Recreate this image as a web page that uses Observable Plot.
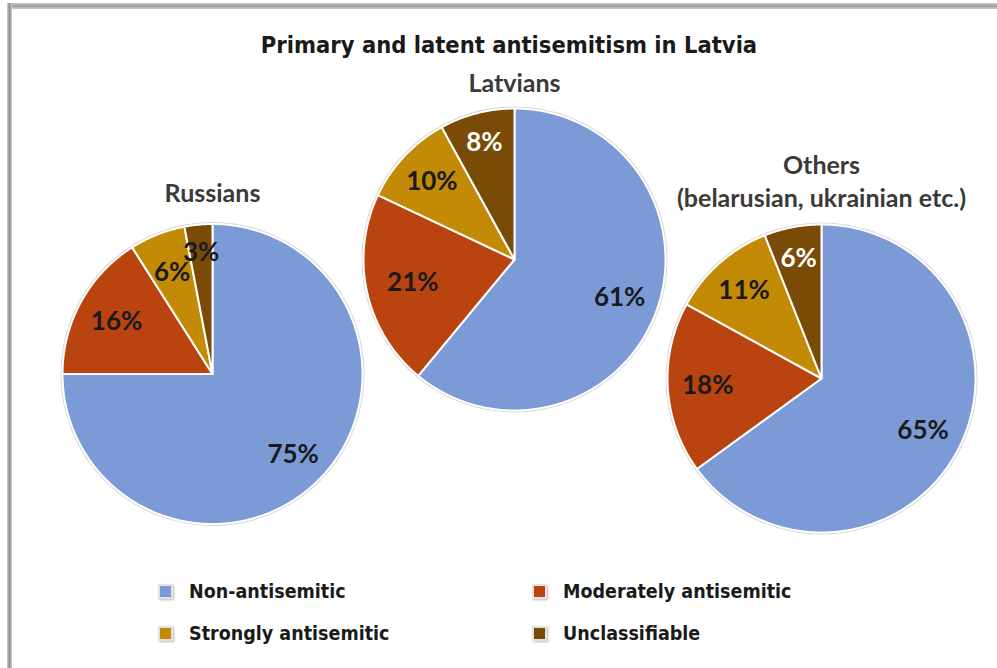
<!DOCTYPE html>
<html><head><meta charset="utf-8">
<script src="https://cdn.jsdelivr.net/npm/d3@7"></script>
<script src="https://cdn.jsdelivr.net/npm/@observablehq/plot@0.6"></script>
<style>
body{margin:0;background:#fff;}
#wrap{position:relative;width:997px;height:668px;overflow:hidden;background:#fff;}
#topbar{position:absolute;left:7px;top:3px;right:0;height:6px;background:linear-gradient(#d0d0d0,#9c9c9c 50%,#cfcfcf);}
#leftbar{position:absolute;left:7px;top:3px;bottom:0;width:5px;background:linear-gradient(90deg,#cfcfcf,#8f8f8f 50%,#cfcfcf);}
#chart{position:absolute;left:0;top:0;}
#title{position:absolute;left:0;width:1018px;top:31px;text-align:center;font:bold 23.5px "DejaVu Sans Condensed","DejaVu Sans",sans-serif;color:#1a1a1a;line-height:28px;white-space:nowrap;}
.leg{position:absolute;display:flex;align-items:center;font:bold 19.5px "DejaVu Sans Condensed","DejaVu Sans",sans-serif;color:#1a1a1a;white-space:nowrap;}
.sw{width:11px;height:11px;border:2px solid #e2e2e2;box-shadow:1px 1px 2px #bbb;margin-right:16px;}
</style>
</head><body>
<div id="wrap">
  <div id="topbar"></div><div id="leftbar"></div>
  <div id="chart"></div>
  <div id="title">Primary and latent antisemitism in Latvia</div>
  <div id="legend"></div>
</div>
<script>
// ---- data ----
const categories = ["Non-antisemitic", "Moderately antisemitic", "Strongly antisemitic", "Unclassifiable"];
const groupNames = ["Russians", "Latvians", "Others"];
const groupTitles = [["Russians"], ["Latvians"], ["Others", "(belarusian, ukrainian etc.)"]];
const russians = [75, 16, 6, 3];
const latvians = [61, 21, 10, 8];
const others = [65, 18, 11, 6];
const colors = ["#7b9ad6", "#b9440f", "#c38a06", "#7a4a07"];

// ---- layout (positions only) ----
const layout = [
  {cx: 212, cy: 373.5, r: 150, titleY: [193], labelR: [0.76, 0.73, 0.73, 0.81]},
  {cx: 514, cy: 259, r: 151, titleY: [83], labelR: [0.74, 0.69, 0.75, 0.80]},
  {cx: 821, cy: 378, r: 154, titleY: [165, 198], labelR: [0.74, 0.74, 0.76, 0.79]}
];
const seriesValues = [russians, latvians, others];

const pie = d3.pie().sort(null).value(d => d);
const polys = [], labels = [], outlines = [], titles = [];
groupNames.forEach((g, gi) => {
  const L = layout[gi];
  const arcs = pie(seriesValues[gi]);
  outlines.push({x: L.cx, y: L.cy, r: L.r + 1});
  arcs.forEach((a, i) => {
    const id = g + "-" + i;
    const category = categories[i];
    const n = Math.max(2, Math.ceil((a.endAngle - a.startAngle) / (Math.PI / 360)));
    polys.push({id, category, x: L.cx, y: L.cy});
    for (let k = 0; k <= n; k++) {
      const t = a.startAngle + (a.endAngle - a.startAngle) * k / n;
      polys.push({id, category, x: L.cx + L.r * Math.sin(t), y: L.cy - L.r * Math.cos(t)});
    }
    polys.push({id, category, x: L.cx, y: L.cy});
    const m = (a.startAngle + a.endAngle) / 2;
    const lr = L.labelR[i] * L.r;
    labels.push({x: L.cx + lr * Math.sin(m), y: L.cy - lr * Math.cos(m), text: a.data + "%",
                 light: i === 3 && a.data >= 5});
  });
  groupTitles[gi].forEach((t, j) => titles.push({x: L.cx, y: L.titleY[j], text: t}));
});

const chart = Plot.plot({
  width: 997, height: 668, margin: 0,
  style: {background: "transparent", overflow: "visible"},
  x: {domain: [0, 997], axis: null},
  y: {domain: [0, 668], reverse: true, axis: null},
  r: {type: "identity"},
  color: {domain: categories, range: colors},
  marks: [
    Plot.dot(outlines, {x: "x", y: "y", r: "r", fill: "none", stroke: "#d6d6d6", strokeWidth: 2}),
    Plot.line(polys, {x: "x", y: "y", z: "id", fill: "category", stroke: "white", strokeWidth: 2, strokeLinejoin: "round"}),
    Plot.text(labels.filter(d => !d.light), {x: "x", y: "y", text: "text", fill: "#1a1a1a",
      fontSize: 26, fontWeight: "bold", fontFamily: "Lato, 'Open Sans', sans-serif"}),
    Plot.text(labels.filter(d => d.light), {x: "x", y: "y", text: "text", fill: "#ffffff",
      fontSize: 26, fontWeight: "bold", fontFamily: "Lato, 'Open Sans', sans-serif"}),
    Plot.text(titles, {x: "x", y: "y", text: "text", fill: "#3a3a3a",
      fontSize: 25, fontWeight: "bold", fontFamily: "Lato, 'Open Sans', sans-serif"})
  ]
});
document.getElementById("chart").appendChild(chart);

// legend
const legendPos = [[158, 591], [532, 591], [158, 633], [532, 633]];
const legendOrder = [0, 1, 2, 3];
const legend = document.getElementById("legend");
legendOrder.forEach((ci, k) => {
  const el = document.createElement("div");
  el.className = "leg";
  el.style.left = legendPos[k][0] + "px";
  el.style.top = (legendPos[k][1] - 13) + "px";
  el.style.height = "26px";
  const sw = document.createElement("span");
  sw.className = "sw";
  sw.style.background = colors[ci];
  el.appendChild(sw);
  const tx = document.createElement("span");
  tx.textContent = categories[ci];
  el.appendChild(tx);
  legend.appendChild(el);
});
</script>
</body></html>
